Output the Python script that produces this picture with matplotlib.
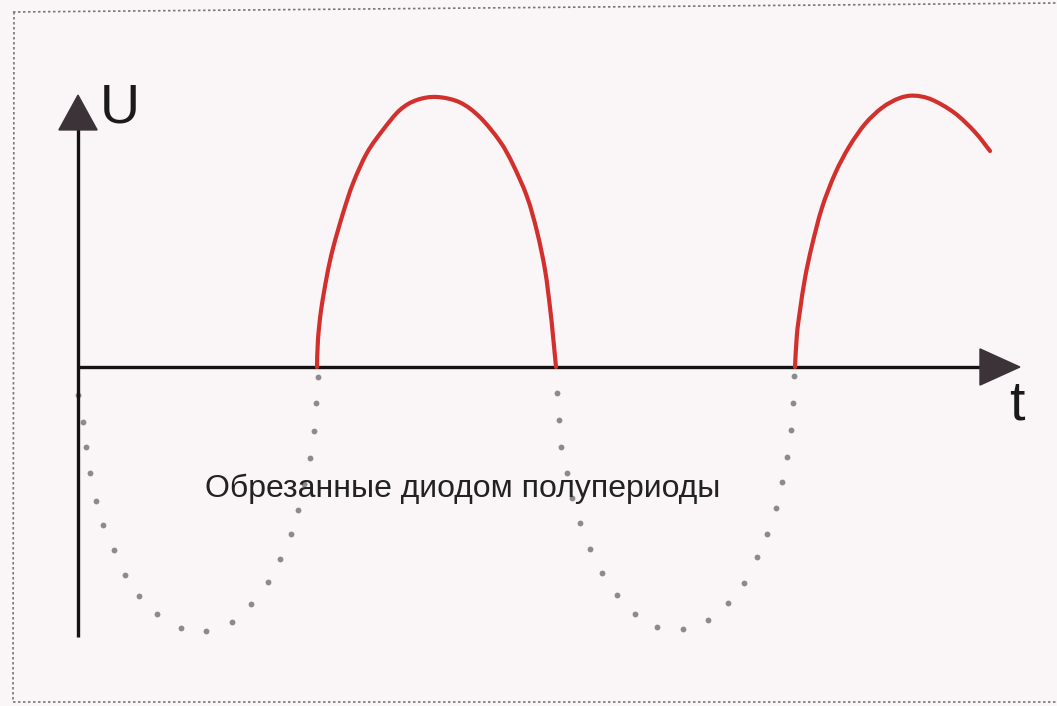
import matplotlib
matplotlib.use("Agg")
import matplotlib.pyplot as plt
from matplotlib.patches import Polygon, PathPatch
from matplotlib.path import Path
from matplotlib.lines import Line2D

# ---- data (t in ms, U normalised to peak = 1) ----
arch1_t = [10.0, 10.04, 10.17, 10.42, 10.67, 11.09, 11.51, 12.09, 12.76, 13.47, 14.18, 15.02,
           15.98, 16.82, 17.66, 18.20, 18.79, 19.21, 19.54, 19.75, 19.87, 20.0]
arch1_u = [0.0, 0.10, 0.21, 0.34, 0.44, 0.57, 0.681, 0.793, 0.878, 0.952, 0.989, 1.0,
           0.98, 0.925, 0.835, 0.75, 0.63, 0.50, 0.36, 0.22, 0.12, 0.0]

arch2_t = [30.0, 30.08, 30.21, 30.42, 30.71, 31.13, 31.67, 32.26, 32.93, 33.64, 34.35, 34.98,
           35.73, 36.69, 37.53, 38.16]
arch2_u = [0.0, 0.12, 0.21, 0.33, 0.45, 0.59, 0.715, 0.815, 0.90, 0.96, 0.995, 1.005,
           0.99, 0.94, 0.87, 0.80]

trough1_t = [0.0, 0.21, 0.33, 0.50, 0.75, 1.05, 1.51, 1.97, 2.55, 3.31, 4.31, 5.36, 6.44,
             7.24, 7.95, 8.45, 8.91, 9.21, 9.46, 9.71, 9.87, 9.96, 10.04]
trough1_u = [-0.104, -0.204, -0.296, -0.393, -0.496, -0.585, -0.678, -0.770, -0.848, -0.915,
             -0.967, -0.978, -0.944, -0.878, -0.796, -0.711, -0.619, -0.530, -0.433, -0.337,
             -0.237, -0.133, -0.037]

trough2_t = [20.04, 20.13, 20.21, 20.46, 20.67, 21.0, 21.42, 21.92, 22.55, 23.31, 24.23,
             25.31, 26.36, 27.20, 27.87, 28.41, 28.83, 29.21, 29.46, 29.67, 29.83, 29.92, 29.96]
trough2_u = [-0.096, -0.196, -0.296, -0.393, -0.485, -0.578, -0.674, -0.763, -0.844, -0.915,
             -0.963, -0.970, -0.937, -0.874, -0.800, -0.704, -0.619, -0.522, -0.426, -0.333,
             -0.233, -0.133, -0.033]

u_label = "U"
t_label = "t"
note = "Обрезанные диодом полупериоды"

# ---- figure ----
W, H = 1057, 706
bg = "#faf6f7"
fig = plt.figure(figsize=(W / 100, H / 100), dpi=100, facecolor=bg)
ax = fig.add_axes([0, 0, 1, 1])
ax.set_facecolor(bg)
px_t = 23.9   # px per ms
px_u = 270.0  # px per unit
x0, y0 = 78, 367
ax.set_xlim((0 - x0) / px_t, (W - x0) / px_t)
ax.set_ylim((y0 - H) / px_u, y0 / px_u)
ax.axis("off")


def smooth_path(xs, ys):
    """Cubic Bezier path passing through the given points (Catmull-Rom tangents)."""
    pts = list(zip(xs, ys))
    n = len(pts)
    verts = [pts[0]]
    codes = [Path.MOVETO]
    for i in range(n - 1):
        p0 = pts[i - 1] if i > 0 else pts[i]
        p1 = pts[i]
        p2 = pts[i + 1]
        p3 = pts[i + 2] if i + 2 < n else pts[i + 1]
        c1 = (p1[0] + (p2[0] - p0[0]) / 6, p1[1] + (p2[1] - p0[1]) / 6)
        c2 = (p2[0] - (p3[0] - p1[0]) / 6, p2[1] - (p3[1] - p1[1]) / 6)
        verts += [c1, c2, p2]
        codes += [Path.CURVE4] * 3
    return Path(verts, codes)


# axes with arrows
axis_col = "#141214"
head_col = "#3b3338"
ax.plot([0, 0], [-1.0, 0.90], color=axis_col, lw=2.4, solid_capstyle="butt", zorder=3)
ax.plot([0, 37.9], [0, 0], color=axis_col, lw=2.4, solid_capstyle="butt", zorder=3)
ax.add_patch(Polygon([[0, 1.007], [-0.80, 0.878], [0.80, 0.878]], closed=True,
                     facecolor=head_col, edgecolor=head_col, zorder=4))
ax.add_patch(Polygon([[39.41, 0], [37.74, 0.067], [37.74, -0.067]], closed=True,
                     facecolor=head_col, edgecolor=head_col, zorder=4))

# clipped half-periods (dots)
dot_col = "#8c8a8c"
ax.plot(trough1_t, trough1_u, ls="none", marker="o", ms=4.2, color=dot_col, mec="none", zorder=2)
ax.plot(trough2_t, trough2_u, ls="none", marker="o", ms=4.2, color=dot_col, mec="none", zorder=2)

# passed half-periods
red = "#d2302c"
for xs, ys in ((arch1_t, arch1_u), (arch2_t, arch2_u)):
    ax.add_patch(PathPatch(smooth_path(xs, ys), facecolor="none", edgecolor=red, lw=3.0,
                           capstyle="round", joinstyle="round", zorder=5))

# labels
ax.text(0.92, 0.904, u_label, fontsize=40, family="Liberation Sans", color="#1a1a1a",
        ha="left", va="baseline")
ax.text(38.95, -0.196, t_label, fontsize=40, family="Liberation Sans", color="#1a1a1a",
        ha="left", va="baseline")
ax.text(5.31, -0.483, note, fontsize=23, family="Liberation Sans", color="#222222",
        ha="left", va="baseline", zorder=6)

# dotted scan border
def fx(p):
    return p / W


def fy(p):
    return 1 - p / H


border = dict(color="#7a7678", lw=1.2, ls=(0, (1.5, 1.5)), transform=fig.transFigure)
fig.add_artist(Line2D([fx(13), fx(1057)], [fy(12), fy(3)], **border))
fig.add_artist(Line2D([fx(14), fx(13)], [fy(12), fy(702)], **border))
fig.add_artist(Line2D([fx(13), fx(1057)], [fy(702), fy(702)], **border))

fig.savefig("out.png", dpi=100, facecolor=fig.get_facecolor())
